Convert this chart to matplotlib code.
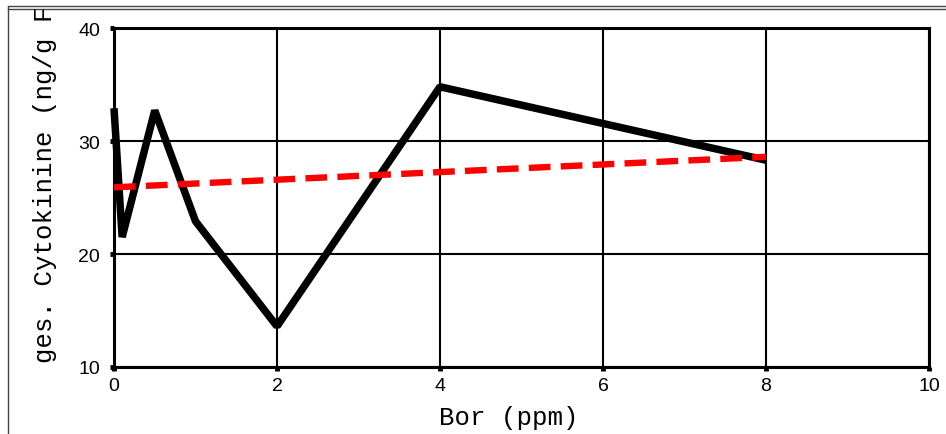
import matplotlib
matplotlib.use("Agg")
import matplotlib.pyplot as plt
from matplotlib.lines import Line2D
from matplotlib.transforms import Bbox, TransformedBbox

# Boron dose (ppm) and total cytokinin content (ng/g FG)
bor_ppm = [0, 0.1, 0.5, 1, 2, 4, 8]
cytokinine = [32.9, 21.5, 32.7, 22.9, 13.6, 34.8, 28.3]

# trend line
trend_x = [0, 8]
trend_y = [25.9, 28.6]

x_ticks = [0, 2, 4, 6, 8, 10]
y_ticks = [10, 20, 30, 40]

W, H = 946, 435
fig = plt.figure(figsize=(W / 100, H / 100), dpi=100)
fig.patch.set_facecolor("white")

def fx(px):
    return px / W

def fy(py):
    return 1 - py / H

ax = fig.add_axes([fx(114), fy(368), fx(929) - fx(114), fy(29) - fy(368)])
ax.set_xlim(0, 10)
ax.set_ylim(10, 40)
ax.set_xticks(x_ticks)
ax.set_yticks(y_ticks)
ax.set_xticklabels([str(v) for v in x_ticks], fontfamily="Liberation Sans", fontsize=14)
ax.set_yticklabels([str(v) for v in y_ticks], fontfamily="Liberation Sans", fontsize=14)
ax.tick_params(direction="out", length=3, width=3.5, colors="black")
ax.tick_params(axis="x", pad=4)
ax.tick_params(axis="y", pad=7)
ax.grid(True, color="black", linewidth=1.5)
ax.set_axisbelow(True)
for side in ["left", "bottom", "top", "right"]:
    ax.spines[side].set_linewidth(2.2)
    ax.spines[side].set_color("black")

ax.plot(bor_ppm, cytokinine, color="black", linewidth=5.4,
        solid_joinstyle="bevel", solid_capstyle="butt", zorder=3,
        clip_on=False)
ax.plot(trend_x, trend_y, color="#ff0000", linewidth=4.6,
        linestyle=(0, (3.4, 1.6)), dash_capstyle="butt", zorder=4,
        clip_on=False)

# axis titles
fig.text(fx(509), fy(425), "Bor (ppm)", fontfamily="Liberation Mono",
         fontsize=18.5, ha="center", va="baseline")
ylab = fig.text(fx(45), fy(363), "ges. Cytokinine (ng/g FG)",
                fontfamily="Liberation Mono", fontsize=18.5,
                rotation=90, ha="center", va="bottom")
ylab.set_clip_box(TransformedBbox(Bbox([[0, 0], [1, fy(10)]]), fig.transFigure))
ylab.set_clip_on(True)

# outer frame
frame_col = "#444444"
fig.add_artist(Line2D([fx(8), fx(8)], [fy(8), 0], transform=fig.transFigure,
                      color=frame_col, linewidth=1))
for py in (7, 9.5):
    fig.add_artist(Line2D([fx(8), 1], [fy(py), fy(py)], transform=fig.transFigure,
                          color=frame_col, linewidth=1))

fig.savefig("out.png", dpi=100, facecolor="white")
